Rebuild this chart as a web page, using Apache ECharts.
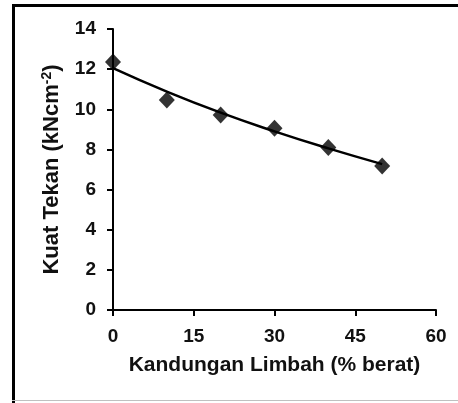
<!DOCTYPE html>
<html>
<head>
<meta charset="utf-8">
<script src="https://cdn.jsdelivr.net/npm/echarts@6/dist/echarts.min.js"></script>
<style>
html,body{margin:0;padding:0;background:#fff;}
#c{width:458px;height:403px;}
</style>
</head>
<body>
<div id="c"></div>
<script>
// Data
const wasteContent = [0, 10, 20, 30, 40, 50];          // Kandungan Limbah (% berat)
const strength = [12.35, 10.46, 9.72, 9.05, 8.1, 7.17]; // Kuat Tekan (kNcm^-2)
const trendX = [0, 10, 20, 30, 40, 50];
const trendY = [12.05, 10.88, 9.83, 8.9, 8.05, 7.27];   // fitted curve
const xTicks = [0, 15, 30, 45, 60];
const yTicks = [0, 2, 4, 6, 8, 10, 12, 14];

const chart = echarts.init(document.getElementById('c'), null, {renderer: 'canvas'});
const font = 'Liberation Sans, Arial, sans-serif';
chart.setOption({
  animation: false,
  backgroundColor: '#fff',
  grid: {left: 113, top: 29, right: 22, bottom: 93},
  xAxis: {
    type: 'value', min: xTicks[0], max: xTicks[xTicks.length - 1], interval: 15,
    name: 'Kandungan Limbah (% berat)', nameLocation: 'middle', nameGap: 45,
    nameTextStyle: {fontFamily: font, fontWeight: 'bold', fontSize: 21, color: '#111'},
    axisLine: {lineStyle: {color: '#000', width: 2}},
    axisTick: {show: true, length: 6, lineStyle: {color: '#000', width: 2}},
    axisLabel: {fontFamily: font, fontWeight: 'bold', fontSize: 19, color: '#111', margin: 17},
    splitLine: {show: false}
  },
  yAxis: {
    type: 'value', min: yTicks[0], max: yTicks[yTicks.length - 1], interval: 2,
    name: '{a|Kuat Tekan (kNcm}{s|-2}{a|)}', nameLocation: 'middle', nameGap: 49,
    nameTextStyle: {
      rich: {
        a: {fontFamily: font, fontWeight: 'bold', fontSize: 22, color: '#111'},
        s: {fontFamily: font, fontWeight: 'bold', fontSize: 14, color: '#111', verticalAlign: 'top', padding: [0, 0, 10, 0]}
      }
    },
    axisLine: {show: true, lineStyle: {color: '#000', width: 2}},
    axisTick: {show: true, length: 6, lineStyle: {color: '#000', width: 2}},
    axisLabel: {fontFamily: font, fontWeight: 'bold', fontSize: 19, color: '#111', margin: 17},
    splitLine: {show: false}
  },
  graphic: [
    {type: 'line', shape: {x1: 13.5, y1: 4, x2: 13.5, y2: 403}, style: {stroke: '#000', lineWidth: 3}},
    {type: 'line', shape: {x1: 12, y1: 5.5, x2: 458, y2: 5.5}, style: {stroke: '#000', lineWidth: 3}},
    {type: 'line', shape: {x1: 12, y1: 400.5, x2: 458, y2: 400.5}, style: {stroke: '#c0c0c0', lineWidth: 1}}
  ],
  series: [
    {
      type: 'line', data: trendX.map((x, i) => [x, trendY[i]]), smooth: true,
      showSymbol: false, lineStyle: {color: '#000', width: 2.5}, z: 2
    },
    {
      type: 'scatter', data: wasteContent.map((x, i) => [x, strength[i]]),
      symbol: 'diamond', symbolSize: [16, 17], itemStyle: {color: '#000'}, z: 3
    }
  ]
});
</script>
</body>
</html>
